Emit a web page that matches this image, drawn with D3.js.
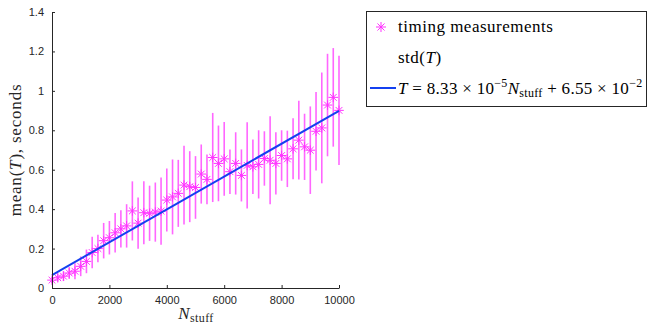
<!DOCTYPE html>
<html><head><meta charset="utf-8">
<script src="https://cdn.jsdelivr.net/npm/d3@7"></script>
<style>body{margin:0;background:#fff}svg{display:block}</style>
</head><body>
<svg id="c" width="649" height="324"></svg>
<script>
// ---- data ----
const nStuff = [0,200,400,600,800,1000,1200,1400,1600,1800,2000,2200,2400,2600,2800,3000,3200,3400,3600,3800,4000,4200,4400,4600,4800,5000,5200,5400,5600,5800,6000,6200,6400,6600,6800,7000,7200,7400,7600,7800,8000,8200,8400,8600,8800,9000,9200,9400,9600,9800,10000];
const meanT = [0.040,0.052,0.060,0.076,0.085,0.110,0.135,0.180,0.200,0.240,0.255,0.280,0.300,0.315,0.391,0.329,0.382,0.379,0.385,0.390,0.446,0.462,0.480,0.522,0.514,0.510,0.578,0.551,0.662,0.632,0.655,0.590,0.632,0.571,0.622,0.615,0.627,0.657,0.648,0.632,0.672,0.655,0.706,0.750,0.716,0.699,0.795,0.812,0.928,0.967,0.901];
const stdT = [0.015,0.020,0.025,0.030,0.040,0.050,0.060,0.080,0.070,0.090,0.085,0.100,0.095,0.110,0.150,0.130,0.160,0.140,0.150,0.170,0.160,0.190,0.170,0.200,0.180,0.159,0.150,0.126,0.226,0.192,0.187,0.113,0.158,0.132,0.219,0.138,0.173,0.138,0.223,0.158,0.128,0.143,0.155,0.200,0.168,0.222,0.199,0.281,0.260,0.250,0.277];
const fitSlope = 8.33e-5, fitIntercept = 6.55e-2;
const xTicks = [0,2000,4000,6000,8000,10000];
const yTicks = [0,0.2,0.4,0.6,0.8,1,1.2,1.4];

const svg = d3.select("#c");
const axisCol = "#262626";
const x = d3.scaleLinear().domain([0,10000]).range([52,339]);
const y = d3.scaleLinear().domain([0,1.4]).range([288,12]);

// error bars
svg.append("g").selectAll("line").data(nStuff).join("line")
  .attr("x1",(d)=>x(d)).attr("x2",(d)=>x(d))
  .attr("y1",(d,i)=>y(meanT[i]-stdT[i])).attr("y2",(d,i)=>y(meanT[i]+stdT[i]))
  .attr("stroke","#ff66ff").attr("stroke-width",1.6);

// asterisk markers
function star(cx,cy,r){
  const a=r*0.7071;
  return `M${cx-r},${cy}H${cx+r}M${cx},${cy-r}V${cy+r}M${cx-a},${cy-a}L${cx+a},${cy+a}M${cx-a},${cy+a}L${cx+a},${cy-a}`;
}
svg.append("g").selectAll("path").data(nStuff).join("path")
  .attr("d",(d,i)=>star(x(d),y(meanT[i]),4.8))
  .attr("stroke","#ff33ff").attr("stroke-width",1).attr("fill","none");

// fit line
const fitN=[nStuff[0],nStuff[nStuff.length-1]];
svg.append("line")
  .attr("x1",x(fitN[0])).attr("y1",y(fitSlope*fitN[0]+fitIntercept))
  .attr("x2",x(fitN[1])).attr("y2",y(fitSlope*fitN[1]+fitIntercept))
  .attr("stroke","#1440f0").attr("stroke-width",2);

// axes
const xa = svg.append("g").attr("transform","translate(0,288)")
  .call(d3.axisBottom(x).tickValues(xTicks).tickSizeInner(-3).tickSizeOuter(0).tickPadding(8).tickFormat(d3.format("d")));
const ya = svg.append("g").attr("transform","translate(52,0)")
  .call(d3.axisLeft(y).tickValues(yTicks).tickSizeInner(-3).tickSizeOuter(0).tickPadding(8).tickFormat(d=>String(d)));
[xa,ya].forEach(g=>{
  g.selectAll("path,line").attr("stroke",axisCol);
  g.selectAll("text").attr("fill",axisCol).style("font-family","Liberation Sans, Arial, sans-serif").style("font-size","11px");
});

// axis labels
const serif = "Liberation Serif, Times New Roman, serif";
const xl = svg.append("text").attr("x",196).attr("y",319).attr("text-anchor","middle")
  .style("font-family",serif).style("font-size","17px").style("letter-spacing","0.4px").attr("fill",axisCol);
xl.append("tspan").attr("font-style","italic").text("N");
xl.append("tspan").attr("dy",3).style("font-size","12px").text("stuff");

const yl = svg.append("text").attr("transform","translate(21,150) rotate(-90)").attr("text-anchor","middle")
  .style("font-family",serif).style("font-size","17px").style("letter-spacing","0.8px").attr("fill",axisCol);
yl.append("tspan").text("mean(");
yl.append("tspan").attr("font-style","italic").text("T");
yl.append("tspan").text("), seconds");

// legend
const lg = svg.append("g");
lg.append("rect").attr("x",366.5).attr("y",11.5).attr("width",280).attr("height",95)
  .attr("fill","#fff").attr("stroke",axisCol).attr("stroke-width",1);
lg.append("path").attr("d",star(381,27,5)).attr("stroke","#ff33ff").attr("stroke-width",1).attr("fill","none");
const lt = (yy,ls)=>lg.append("text").attr("x",398).attr("y",yy).style("font-family",serif).style("font-size","17px").style("letter-spacing",ls).attr("fill","#000");
lt(32,"0.5px").text("timing measurements");
const t2 = lt(63,"0.5px");
t2.append("tspan").text("std(");
t2.append("tspan").attr("font-style","italic").text("T");
t2.append("tspan").text(")");
lg.append("line").attr("x1",370).attr("x2",396).attr("y1",88).attr("y2",88).attr("stroke","#1440f0").attr("stroke-width",2);
const t3 = lt(94,"0.3px");
t3.append("tspan").attr("font-style","italic").text("T");
t3.append("tspan").text(" = 8.33 × 10");
t3.append("tspan").attr("dy",-7).style("font-size","12px").text("−5");
t3.append("tspan").attr("dy",7).attr("font-style","italic").text("N");
t3.append("tspan").attr("dy",3).style("font-size","12px").text("stuff");
t3.append("tspan").attr("dy",-3).text(" + 6.55 × 10");
t3.append("tspan").attr("dy",-7).style("font-size","12px").text("−2");
</script>
</body></html>
